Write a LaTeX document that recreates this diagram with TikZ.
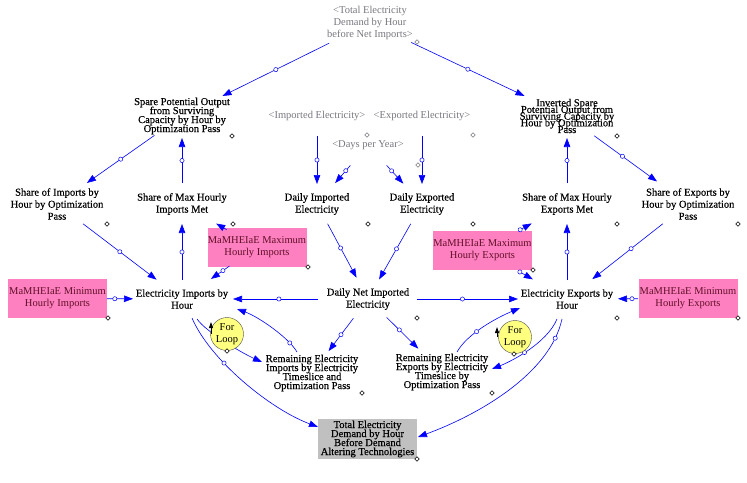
\documentclass[tikz,border=0pt]{standalone}
\usepackage{fontspec}
\setmainfont{Liberation Serif}
\newfontfamily\bk{Liberation Serif}[FakeBold=0.35]
\usetikzlibrary{arrows.meta,calc}
\definecolor{arrc}{RGB}{0,0,255}
\definecolor{shd}{RGB}{120,120,128}
\definecolor{pinkf}{RGB}{255,128,192}
\definecolor{pinkt}{RGB}{96,16,40}
\definecolor{grayf}{RGB}{192,192,192}
\definecolor{loopf}{RGB}{255,255,128}
\newcommand\nolsk{\lineskiplimit=-50pt\relax}
\newcommand\lnk[5][0.5]{\draw[arr] ($(#2.center)!#3pt!(#4.center)$) -- node[dot,pos=#1]{} ($(#4.center)!#5pt!(#2.center)$);}
\newcommand\dmd[2][black]{\draw[#1,fill=white,line width=0.5pt] (#2) ++(-2.2,0) -- ++(2.2,-2.2) -- ++(2.2,2.2) -- ++(-2.2,2.2) -- cycle;}
\begin{document}
\begin{tikzpicture}[x=1pt,y=-1pt,
  txt/.style={align=center,inner sep=0pt,font=\bk\fontsize{10.5}{12}\selectfont\nolsk},
  tight/.style={font=\bk\fontsize{10.5}{9}\selectfont\nolsk},
  gtxt/.style={align=center,inner sep=0pt,text=shd,font=\fontsize{10.5}{12}\selectfont},
  pbox/.style={align=center,inner sep=0pt,fill=pinkf,text=pinkt,minimum width=99pt,minimum height=39pt,font=\fontsize{10.5}{12}\selectfont},
  gbox/.style={align=center,inner sep=0pt,fill=grayf,minimum width=99pt,minimum height=40pt,font=\bk\fontsize{10.5}{9}\selectfont\nolsk},
  loopc/.style={circle,draw=black!70,fill=loopf,minimum size=33pt,inner sep=0pt,align=center,font=\fontsize{10.5}{12}\selectfont},
  arr/.style={draw=arrc,line width=0.6pt,-{Triangle[length=9pt,width=6.5pt]}},
  dot/.style={circle,draw=arrc,fill=white,inner sep=0pt,minimum size=4.2pt,line width=0.5pt},
  loopsym/.style={black,line width=0.9pt,-{Triangle[length=6pt,width=4pt]}}]
\useasboundingbox[fill=white] (0,0) rectangle (747,482);

% nodes
\node[gtxt] (tot) at (370,23) {<Total Electricity\\Demand by Hour\\before Net Imports>};
\node[txt,tight] (spare) at (182,116) {Spare Potential Output\\from Surviving\\Capacity by Hour by\\Optimization Pass};
\node[txt,font=\bk\fontsize{10.5}{6.7}\selectfont\nolsk] (inv) at (567,116) {Inverted Spare\\Potential Output from\\Surviving Capacity by\\Hour by Optimization\\Pass};
\node[gtxt] (impE) at (317,116) {<Imported Electricity>};
\node[gtxt] (expE) at (422,116) {<Exported Electricity>};
\node[gtxt] (days) at (368,145) {<Days per Year>};
\node[txt] (sib) at (57,204) {Share of Imports by\\Hour by Optimization\\Pass};
\node[txt] (smi) at (182,204) {Share of Max Hourly\\Imports Met};
\node[txt] (dimp) at (317,204) {Daily Imported\\Electricity};
\node[txt] (dexp) at (422,204) {Daily Exported\\Electricity};
\node[txt] (sme) at (567,204) {Share of Max Hourly\\Exports Met};
\node[txt] (seb) at (688,204) {Share of Exports by\\Hour by Optimization\\Pass};
\node[pbox] (maxI) at (257,247) {MaMHEIaE Maximum\\Hourly Imports};
\node[pbox] (maxE) at (482.5,250.5) {MaMHEIaE Maximum\\Hourly Exports};
\node[pbox] (minI) at (57.5,298.5) {MaMHEIaE Minimum\\Hourly Imports};
\node[pbox] (minE) at (688,298.5) {MaMHEIaE Minimum\\Hourly Exports};
\node[txt] (imp) at (182,299) {Electricity Imports by\\Hour};
\node[txt] (dnet) at (368,299) {Daily Net Imported\\Electricity};
\node[txt] (exph) at (567,299) {Electricity Exports by\\Hour};
\node[txt,tight] (remI) at (312,373) {Remaining Electricity\\Imports by Electricity\\Timeslice and\\Optimization Pass};
\node[txt,tight] (remE) at (442,372) {Remaining Electricity\\Exports by Electricity\\Timeslice by\\Optimization Pass};
\node[gbox] (totB) at (367.5,439) {Total Electricity\\Demand by Hour\\Before Demand\\Altering Technologies};

% straight connectors
\lnk{tot}{45.6}{spare}{45.2}
\lnk{tot}{45.6}{inv}{47}
\lnk{smi}{21}{spare}{22}
\lnk{spare}{33.6}{sib}{36.6}
\lnk{imp}{19}{smi}{20}
\lnk{sib}{32.8}{imp}{32}
\draw[arr] ($(maxI.center)!35pt!(smi.center)$) -- ($(smi.center)!39.4pt!(maxI.center)$);
\lnk[0.35]{maxI}{33.6}{imp}{35.2}
\lnk[0.3]{minI}{49.5}{imp}{49}
\lnk[0.46]{dnet}{50}{imp}{51}
\lnk{impE}{20}{dimp}{20}
\lnk[0.3]{days}{27}{dimp}{27.7}
\lnk[0.3]{days}{27.6}{dexp}{27.7}
\lnk{expE}{20}{dexp}{20}
\lnk[0.45]{dimp}{22.4}{dnet}{24.2}
\lnk[0.45]{dexp}{22.8}{dnet}{22.5}
\lnk[0.45]{dnet}{49}{exph}{49}
\lnk{exph}{19}{sme}{20}
\lnk{sme}{21}{inv}{22}
\lnk[0.45]{inv}{33.6}{seb}{38.3}
\lnk[0.45]{seb}{32}{exph}{32.2}
\lnk[0.05]{maxE}{42.3}{sme}{40.3}
\lnk[0.05]{maxE}{42.3}{exph}{39.4}
\lnk[0.3]{minE}{50}{exph}{51}
\lnk[0.5]{dnet}{24.2}{remI}{27.5}
\lnk[0.4]{dnet}{26.2}{remE}{33.3}

% curved connectors
\draw[arr] ([shift={(15,20)}]imp.center) .. controls +(10,14) and +(-18,-8) .. ([shift={(-50,-11)}]remI.center);
\draw[arr] ([shift={(10,19)}]imp.center) .. controls +(18,42) and +(-48,-18) .. ([shift={(-49.5,-12)}]totB.center) node[dot,pos=0.35]{};
\draw[arr] ([shift={(-15,-21)}]remI.center) .. controls +(-8,-14) and +(22,8) .. ([shift={(55,10)}]imp.center) node[dot,pos=0.2]{};
\draw[arr] ([shift={(15,-20)}]remE.center) .. controls +(10,-18) and +(-24,10) .. ([shift={(-47,9)}]exph.center) node[dot,pos=0.4]{};
\draw[arr] ([shift={(-10,20)}]exph.center) .. controls +(-10,24) and +(20,-8) .. ([shift={(50,-3)}]remE.center) node[dot,pos=0.55]{};
\draw[arr] ([shift={(-5,20)}]exph.center) .. controls +(-12,55) and +(60,-22) .. ([shift={(50.5,-2)}]totB.center) node[dot,pos=0.12]{};

% for loops
\node[loopc] (loopL) at (227,334) {For\\Loop};
\node[loopc] (loopR) at (515,337) {For\\Loop};
\draw[loopsym] ([shift={(-16,0)}]loopL.center) -- ++(0,-12);
\draw[loopsym] ([shift={(-18,0)}]loopR.center) -- ++(0,-10);

% small markers
\foreach \px/\py in {232/136,617/136,107/224,233/224,368/224,473/224,617/224,738/224,308/267,533/270,108/318,738/318,417/318,617/318,362/393,492/393,417/459,227/351,514/354} {\dmd{\px,\py}}
\foreach \px/\py in {417/42,367/135,473/135,418/165} {\dmd[shd]{\px,\py}}
\end{tikzpicture}
\end{document}
